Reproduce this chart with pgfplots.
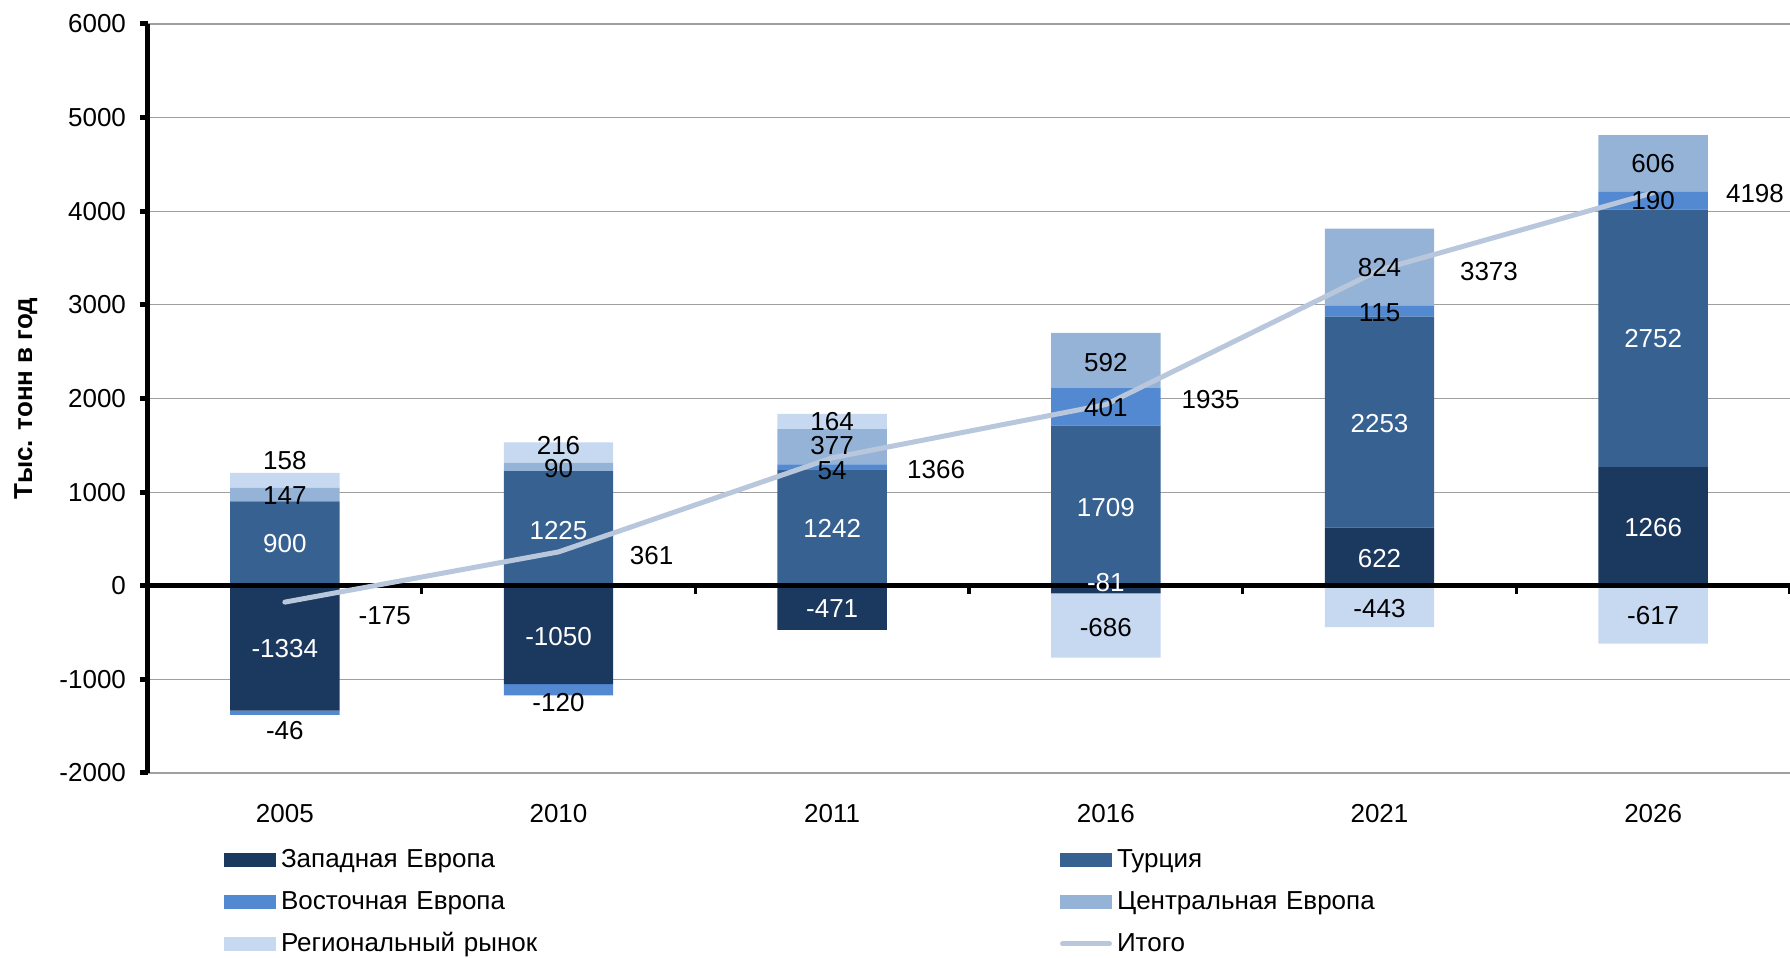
\documentclass[border=0pt]{standalone}
\usepackage{fontspec}
\setmainfont{Liberation Sans}
\usepackage{pgfplots}
\usepackage{pgfplotstable}
\pgfplotsset{compat=1.18}

\definecolor{cWE}{RGB}{27,56,94}
\definecolor{cTU}{RGB}{55,97,145}
\definecolor{cEE}{RGB}{82,137,209}
\definecolor{cCE}{RGB}{149,179,215}
\definecolor{cRG}{RGB}{198,217,240}
\definecolor{cTot}{RGB}{185,199,221}

% positive parts
\pgfplotstableread{
x we tu ee ce rg
0 0 900 0 147 158
1 0 1225 0 90 216
2 0 1242 54 377 164
3 0 1709 401 592 0
4 622 2253 115 824 0
5 1266 2752 190 606 0
}\posdata
% negative parts
\pgfplotstableread{
x we ee rg
0 -1334 -46 0
1 -1050 -120 0
2 -471 0 0
3 -81 0 -686
4 0 0 -443
5 0 0 -617
}\negdata
% total
\pgfplotstableread{
x y
0 -175
1 361
2 1366
3 1935
4 3373
5 4198
}\totdata
% white labels
\pgfplotstableread{
x y lab
0 457 900
0 -665 -1334
1 598 1225
1 -537 -1050
2 610 1242
2 -244 -471
3 842 1709
3 41 -81
4 1739 2253
4 293 622
5 2647 2752
5 622 1266
}\labW
% black labels
\pgfplotstableread{
x y lab
0 1341 158
0 963 147
0 -1540 -46
1 1500 216
1 1256 90
1 -1244 -120
2 1760 164
2 1505 377
2 1235 54
3 2391 592
3 1910 401
3 -439 -686
4 3404 824
4 2926 115
4 -244 -443
5 4517 606
5 4122 190
5 -317 -617
0.365 -311 -175
1.34 329 361
2.38 1244 1366
3.383 1995 1935
4.40 3363 3373
5.372 4197 4198
}\labB

\tikzset{
  labnode/.style={anchor=center, inner sep=0pt, text height=9.3pt, text depth=0pt,
    font=\fontsize{13}{15.6}\selectfont},
}
\pgfplotsset{
  base/.style={
    at={(74pt,92.5pt)}, anchor=south west,
    scale only axis, width=821pt, height=374.5pt,
    xmin=-0.5, xmax=5.5, ymin=-2000, ymax=6000,
    font=\fontsize{13}{15.6}\selectfont,
    /pgf/number format/assume math mode=true,
  },
  barleg/.style={legend image code/.code={%
    \path[draw=none, fill=none] (0pt,0pt) -- (28.5pt,0pt);
    \fill[#1, draw=none] (0pt,-3.3pt) rectangle (26pt,3.3pt);}},
  totleg/.style={legend image code/.code={%
    \path[draw=none, fill=none] (0pt,0pt) -- (28.5pt,0pt);
    \draw[cTot, line width=2.5pt, line cap=round] (1.25pt,0pt) -- (24.75pt,0pt);}},
}

\begin{document}
\begin{tikzpicture}
\path[use as bounding box] (0,0) rectangle (895pt,479pt);

% axis 1: grid, y axis, tick labels, positive bars
\begin{axis}[base,
  ybar stacked, bar width=0.4,
  axis x line*=bottom, axis y line*=left,
  x axis line style={draw=none},
  y axis line style={-, black, line width=2.5pt},
  xtick={0,1,2,3,4,5},
  xticklabels={2005,2010,2011,2016,2021,2026},
  xtick style={draw=none},
  xticklabel style={yshift=-8.2pt},
  ytick={-2000,-1000,0,1000,2000,3000,4000,5000,6000},
  ytick style={black, line width=2.5pt},
  tick align=outside, major tick length=4pt,
  ymajorgrids, major grid style={gray!75, line width=0.6pt},
  yticklabel style={xshift=-3.5pt},
  scaled y ticks=false,
  yticklabel={\pgfmathprintnumber[fixed,1000 sep={}]{\tick}},
  ylabel={\textbf{Тыс. тонн в год}},
  ylabel style={at={(axis description cs:-0.0745,0.5)}, anchor=center},
]
\addplot[fill=cWE, draw=none] table[x=x, y=we] \posdata;
\addplot[fill=cTU, draw=none] table[x=x, y=tu] \posdata;
\addplot[fill=cEE, draw=none] table[x=x, y=ee] \posdata;
\addplot[fill=cCE, draw=none] table[x=x, y=ce] \posdata;
\addplot[fill=cRG, draw=none] table[x=x, y=rg] \posdata;
\end{axis}

% axis 2: negative bars
\begin{axis}[base, hide axis, ybar stacked, bar width=0.4]
\addplot[fill=cWE, draw=none] table[x=x, y=we] \negdata;
\addplot[fill=cEE, draw=none] table[x=x, y=ee] \negdata;
\addplot[fill=cRG, draw=none] table[x=x, y=rg] \negdata;
\end{axis}

% axis 3: zero line, total line, labels, legend
\begin{axis}[base,
  axis x line=middle, axis y line=none,
  x axis line style={-, black, line width=2.5pt},
  xtick={0.5,1.5,2.5,3.5,4.5,5.5}, xticklabels={},
  ytick=\empty,
  xtick style={black, line width=1.6pt},
  tick align=outside, major tick length=4pt,
  legend columns=2,
  legend cell align=left,
  legend style={at={(axis description cs:0.0463,-0.1001)}, anchor=north west,
    draw=none, fill=none, inner sep=0pt, outer sep=0pt,
    /tikz/row sep=9pt,
    nodes={inner sep=0pt, text height=10pt, text depth=2pt, text width=389.5pt, align=left,
      font=\fontsize{13}{15.6}\selectfont}},
]
\addlegendimage{barleg=cWE}
\addlegendentry{Западная Европа}
\addlegendimage{barleg=cTU}
\addlegendentry{Турция}
\addlegendimage{barleg=cEE}
\addlegendentry{Восточная Европа}
\addlegendimage{barleg=cCE}
\addlegendentry{Центральная Европа}
\addlegendimage{barleg=cRG}
\addlegendentry{Региональный рынок}
\addplot[cTot, line width=2.5pt, line cap=round, mark=none, totleg]
  table[x=x, y=y] \totdata;
\addlegendentry{Итого}

\addplot[forget plot, draw=none, mark=none, nodes near coords, point meta=explicit symbolic,
  every node near coord/.append style={labnode, text=white}]
  table[x=x, y=y, meta=lab] \labW;
\addplot[forget plot, draw=none, mark=none, nodes near coords, point meta=explicit symbolic,
  every node near coord/.append style={labnode, text=black}]
  table[x=x, y=y, meta=lab] \labB;
\end{axis}
\end{tikzpicture}
\end{document}
